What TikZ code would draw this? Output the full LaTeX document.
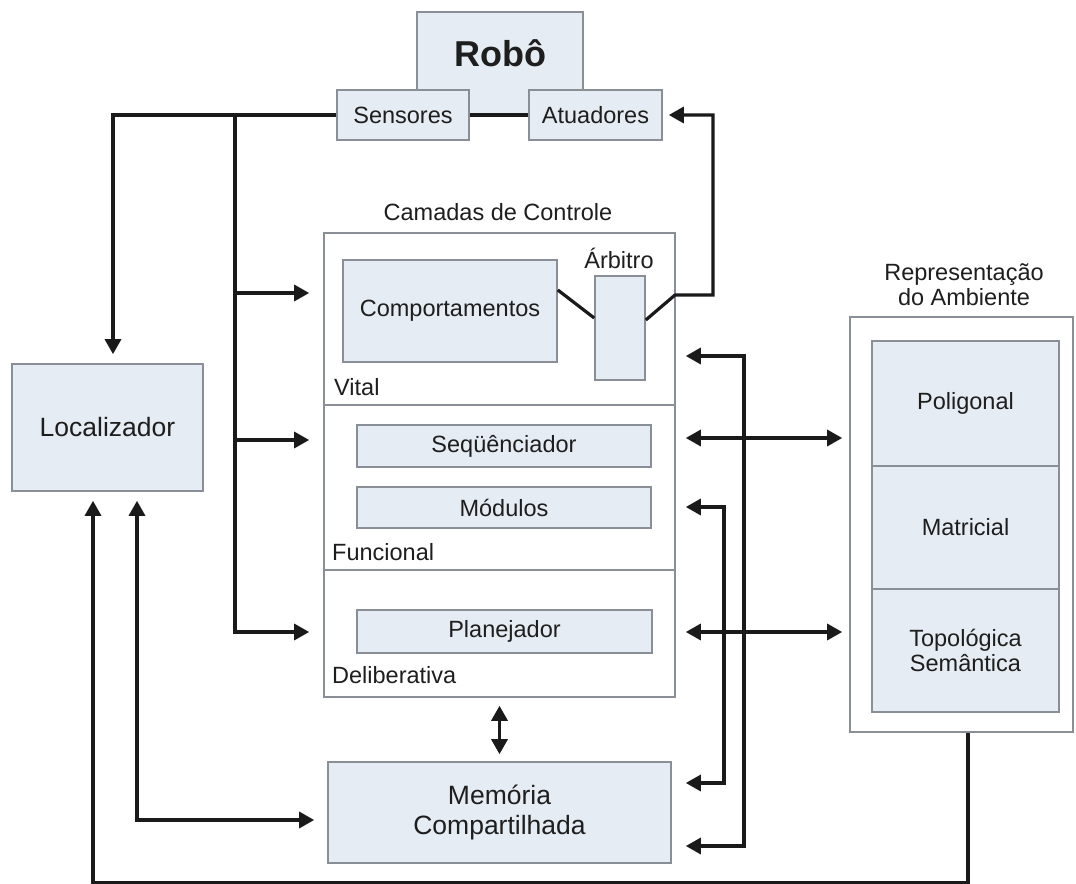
\documentclass[tikz,border=0pt]{standalone}
\usepackage{fontspec}
\setmainfont{Liberation Sans}
\usetikzlibrary{arrows.meta}
\definecolor{boxfill}{HTML}{E6ECF3}
\definecolor{boxline}{HTML}{8A8E96}
\definecolor{linec}{HTML}{1A1A1A}
\definecolor{txt}{HTML}{1E1E1E}
\tikzset{
  box/.style={draw=boxline, fill=boxfill, line width=1.6bp, inner sep=0pt, text=txt, align=center},
  frame/.style={draw=boxline, fill=white, line width=1.6bp, inner sep=0pt},
  lbl/.style={inner sep=0pt, text=txt, align=center},
  conn/.style={draw=linec, line width=3.2bp},
  arr/.style={-{Triangle[length=15bp,width=16bp]}},
  darr/.style={{Triangle[length=15bp,width=16bp]}-{Triangle[length=15bp,width=16bp]}},
  fn/.style={font=\fontsize{23.5bp}{25bp}\selectfont},
  fb/.style={font=\fontsize{26.5bp}{30bp}\selectfont},
}
\begin{document}
\begin{tikzpicture}[x=1bp,y=-1bp]
\useasboundingbox[fill=white] (0,0) rectangle (1076,884);

% Robot
\node[box, minimum width=166bp, minimum height=103bp] (robo) at (500,63.5) {};
\node[lbl, font=\fontsize{36bp}{40bp}\selectfont\bfseries] (robolbl) at (500,53) {Robô};
\node[box, fn, minimum width=132bp, minimum height=50bp] (sens) at (403,115) {Sensores};
\node[box, fn, minimum width=133bp, minimum height=50bp] (atu) at (595.5,115) {Atuadores};

% Control layers
\node[lbl, fn] (camlbl) at (498,212) {Camadas de Controle};
\node[frame, minimum width=351bp, minimum height=464bp] (ctrl) at (499.5,465) {};
\coordinate (dv1) at (324,405);
\coordinate (dv2) at (324,570);
\draw[draw=boxline, line width=1.6bp] (dv1) -- (dv1 -| ctrl.east);
\draw[draw=boxline, line width=1.6bp] (dv2) -- (dv2 -| ctrl.east);

\node[box, fn, minimum width=214bp, minimum height=102bp] (comp) at (450,311) {Comportamentos};
\node[box, minimum width=50bp, minimum height=104bp] (arb) at (620,328) {};
\node[lbl, fn] (arblbl) at (619,258) {Árbitro};
\node[lbl, fn, anchor=west] (vital) at (334,387) {Vital};

\node[box, fn, minimum width=294bp, minimum height=42bp] (seq) at (504,446) {Seqüênciador};
\node[box, fn, minimum width=294bp, minimum height=41bp] (mod) at (504,507.5) {Módulos};
\node[lbl, fn, anchor=west] (func) at (332,552) {Funcional};

\node[box, fn, minimum width=295bp, minimum height=43bp] (plan) at (504.5,631.5) {Planejador};
\node[lbl, fn, anchor=west] (delib) at (332,675) {Deliberativa};

% Memory
\node[box, fb, minimum width=343bp, minimum height=101bp] (mem) at (499.5,812.5) {Memória\\Compartilhada};

% Localizer
\node[box, font=\fontsize{26.5bp}{30bp}\selectfont, minimum width=191bp, minimum height=127bp] (loc) at (107.5,427.5) {Localizador};

% Environment representation
\node[lbl, fn] (replbl) at (964,284.5) {Representação\\do Ambiente};
\node[frame, minimum width=223bp, minimum height=415bp] (rep) at (961.5,524.5) {};
\node[box, fn, minimum width=187bp, minimum height=125bp] (pol) at (965.5,403.5) {Poligonal};
\node[box, fn, minimum width=187bp, minimum height=123bp] (mat) at (965.5,527.5) {Matricial};
\node[box, fn, minimum width=187bp, minimum height=123bp] (topo) at (965.5,650.5) {Topológica\\Semântica};

% Connectors: sensors
\coordinate (sl) at (113,115);
\draw[conn, arr, shorten >=9bp] (sens.west) -- (sl) -- (sl |- loc.north);
\draw[conn] (sens.east) -- (atu.west);
\coordinate (bt) at (235,115);
\coordinate (b1) at (235,293);
\coordinate (b2) at (235,440);
\coordinate (b3) at (235,632);
\draw[conn, arr, shorten >=14bp] (bt) -- (b3) -- (b3 -| ctrl.west);
\draw[conn, arr, shorten >=14bp] (b1) -- (b1 -| ctrl.west);
\draw[conn, arr, shorten >=14bp] (b2) -- (b2 -| ctrl.west);

% Arbiter to actuators
\draw[conn] ([yshift=21bp]comp.east) -- ([yshift=10bp]arb.west);
\coordinate (a0) at (675,295);
\coordinate (a1) at (713,295);
\draw[conn, arr, shorten >=6bp] ([yshift=8bp]arb.east) -- (a0) -- (a1) -- (a1 |- atu.east) -- (atu.east);

% Right side to memory / layers
\coordinate (r1) at (744,356);
\coordinate (r1b) at (744,846);
\draw[conn, darr, shorten <=10bp, shorten >=14bp] (r1 -| ctrl.east) -- (r1) -- (r1b) -- (r1b -| mem.east);
\coordinate (r2) at (724,507);
\coordinate (r2b) at (724,783);
\draw[conn, darr, shorten <=10bp, shorten >=14bp] (r2 -| ctrl.east) -- (r2) -- (r2b) -- (r2b -| mem.east);

% Layers <-> representation
\coordinate (h1) at (760,438);
\coordinate (h2) at (760,632);
\draw[conn, darr, shorten <=10bp, shorten >=7bp] (h1 -| ctrl.east) -- (h1 -| rep.west);
\draw[conn, darr, shorten <=10bp, shorten >=7bp] (h2 -| ctrl.east) -- (h2 -| rep.west);

% Control <-> memory
\draw[conn, darr, shorten <=8bp, shorten >=7bp] (ctrl.south) -- (mem.north);

% Representation -> localizer
\coordinate (bl1) at (968,883);
\coordinate (bl2) at (93,883);
\draw[conn, arr, shorten >=9bp] (bl1 |- rep.south) -- (bl1) -- (bl2) -- (bl2 |- loc.south);

% Localizer <-> memory
\coordinate (lm) at (137,820);
\draw[conn, darr, shorten <=9bp, shorten >=13bp] (lm |- loc.south) -- (lm) -- (lm -| mem.west);
\end{tikzpicture}
\end{document}
